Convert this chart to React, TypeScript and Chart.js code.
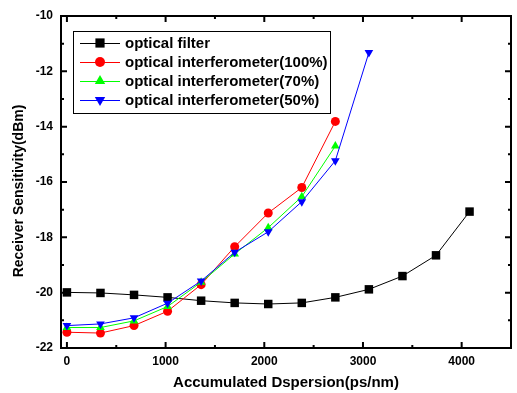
import React, { useEffect, useRef } from "react";
import { Chart, registerables } from "chart.js";

Chart.register(...registerables);

const xValues = [0, 340, 680, 1020, 1360, 1700, 2040, 2380, 2720, 3060, 3400, 3740, 4080];
const filterValues = [-19.99, -20.01, -20.08, -20.17, -20.29, -20.37, -20.41, -20.37, -20.17, -19.88, -19.4, -18.65, -17.07];
const interf100 = [-21.43, -21.46, -21.19, -20.67, -19.71, -18.34, -17.12, -16.2, -13.81];
const interf70 = [-21.26, -21.26, -21.02, -20.5, -19.62, -18.6, -17.65, -16.53, -14.7];
const interf50 = [-21.19, -21.13, -20.91, -20.38, -19.58, -18.54, -17.8, -16.71, -15.23, -11.32];

const seriesLabels = [
  "optical filter",
  "optical interferometer(100%)",
  "optical interferometer(70%)",
  "optical interferometer(50%)",
];
const xTickValues = [0, 1000, 2000, 3000, 4000];
const yTickValues = [-22, -20, -18, -16, -14, -12, -10];
const xMinorTicks = [500, 1500, 2500, 3500];
const yMinorTicks = [-21, -19, -17, -15, -13, -11];
const xTitle = "Accumulated Dspersion(ps/nm)";
const yTitle = "Receiver Sensitivity(dBm)";

const FONT = "'Liberation Sans', Arial, sans-serif";

const toPoints = (vals: number[]) => vals.map((y, i) => ({ x: xValues[i], y }));

function drawMarker(ctx: CanvasRenderingContext2D, style: string, x: number, y: number, r: number, color: string) {
  ctx.save();
  ctx.fillStyle = color;
  ctx.beginPath();
  if (style === "rect") {
    const s = Math.SQRT1_2 * r;
    ctx.rect(x - s, y - s, 2 * s, 2 * s);
  } else if (style === "circle") {
    ctx.arc(x, y, r, 0, Math.PI * 2);
  } else if (style === "triangle") {
    const h = r * Math.cos(Math.PI / 6);
    ctx.moveTo(x, y - r);
    ctx.lineTo(x + h, y + r / 2);
    ctx.lineTo(x - h, y + r / 2);
    ctx.closePath();
  } else if (style === "triangleDown") {
    const h = r * Math.cos(Math.PI / 6);
    ctx.moveTo(x, y + r);
    ctx.lineTo(x + h, y - r / 2);
    ctx.lineTo(x - h, y - r / 2);
    ctx.closePath();
  }
  ctx.fill();
  ctx.restore();
}

const framePlugin = {
  id: "frame",
  afterDraw(chart: any) {
    const { ctx, chartArea, scales } = chart;
    const { left, right, top, bottom } = chartArea;
    const xs = scales.x;
    const ys = scales.y;
    ctx.save();
    ctx.strokeStyle = "#000";
    ctx.lineWidth = 2;
    ctx.strokeRect(left, top, right - left, bottom - top);
    const tick = (vals: number[], len: number) => {
      vals.forEach((v) => {
        const px = xs.getPixelForValue(v);
        ctx.beginPath();
        ctx.moveTo(px, bottom);
        ctx.lineTo(px, bottom - len);
        ctx.moveTo(px, top);
        ctx.lineTo(px, top + len);
        ctx.stroke();
      });
    };
    const tickY = (vals: number[], len: number) => {
      vals.forEach((v) => {
        const py = ys.getPixelForValue(v);
        ctx.beginPath();
        ctx.moveTo(left, py);
        ctx.lineTo(left + len, py);
        ctx.moveTo(right, py);
        ctx.lineTo(right - len, py);
        ctx.stroke();
      });
    };
    tick(xTickValues, 6);
    tick(xMinorTicks, 3);
    tickY(yTickValues, 6);
    tickY(yMinorTicks, 3);

    // axis titles
    ctx.fillStyle = "#000";
    ctx.font = `bold 15px ${FONT}`;
    ctx.textAlign = "center";
    ctx.textBaseline = "middle";
    ctx.fillText(xTitle, 286, 383);
    ctx.save();
    ctx.translate(19, 191);
    ctx.rotate(-Math.PI / 2);
    ctx.font = `bold 14px ${FONT}`;
    ctx.fillText(yTitle, 0, 0);
    ctx.restore();

    // legend
    const bx = 73, by = 31, bw = 257, bh = 82;
    ctx.fillStyle = "#fff";
    ctx.fillRect(bx, by, bw, bh);
    ctx.lineWidth = 1;
    ctx.strokeStyle = "#000";
    ctx.strokeRect(bx + 0.5, by + 0.5, bw, bh);
    const styles = ["rect", "circle", "triangle", "triangleDown"];
    const radii = [6.5, 5, 6, 6];
    chart.data.datasets
      .slice()
      .sort((a: any, b: any) => a.legendIndex - b.legendIndex)
      .forEach((ds: any, i: number) => {
        const ry = 43 + i * 19;
        ctx.strokeStyle = ds.borderColor;
        ctx.lineWidth = 1;
        ctx.beginPath();
        ctx.moveTo(80, ry + 0.5);
        ctx.lineTo(120, ry + 0.5);
        ctx.stroke();
        drawMarker(ctx, styles[i], 100, ry, radii[i], ds.borderColor);
        ctx.fillStyle = "#000";
        ctx.font = `bold 15px ${FONT}`;
        ctx.textAlign = "left";
        ctx.textBaseline = "middle";
        ctx.fillText(ds.label, 125, ry + 1);
      });
    ctx.restore();
  },
};

export default function App() {
  const ref = useRef<HTMLCanvasElement | null>(null);
  useEffect(() => {
    if (!ref.current) return;
    const mk = (label: string, vals: number[], color: string, pointStyle: any, radius: number, rotation: number, order: number, legendIndex: number) => ({
      label,
      data: toPoints(vals),
      borderColor: color,
      backgroundColor: color,
      borderWidth: 1,
      pointStyle,
      pointRadius: radius,
      pointRotation: rotation,
      pointBorderWidth: 0,
      pointBackgroundColor: color,
      pointBorderColor: color,
      order,
      legendIndex,
      tension: 0,
    });
    const chart = new Chart(ref.current, {
      type: "line",
      data: {
        datasets: [
          mk(seriesLabels[0], filterValues, "#000000", "rect", 6, 0, 3, 0),
          mk(seriesLabels[1], interf100, "#ff0000", "circle", 4.5, 0, 2, 1),
          mk(seriesLabels[2], interf70, "#00ff00", "triangle", 5, 0, 1, 2),
          mk(seriesLabels[3], interf50, "#0000ff", "triangle", 5, 180, 0, 3),
        ] as any,
      },
      options: {
        animation: false,
        responsive: false,
        layout: { padding: { left: 0, top: 16, right: 5, bottom: 0 } },
        plugins: { legend: { display: false }, tooltip: { enabled: false } },
        scales: {
          x: {
            type: "linear",
            min: -60,
            max: 4500,
            grid: { display: false, drawTicks: false },
            border: { display: false },
            afterBuildTicks: (s: any) => {
              s.ticks = xTickValues.map((v) => ({ value: v }));
            },
            afterFit: (s: any) => {
              s.height = 45;
            },
            ticks: {
              padding: 6,
              color: "#000",
              font: { family: FONT, size: 12, weight: "bold" },
              maxRotation: 0,
              callback: (v: any) => String(v),
            },
          },
          y: {
            type: "linear",
            min: -22,
            max: -10,
            grid: { display: false, drawTicks: false },
            border: { display: false },
            afterBuildTicks: (s: any) => {
              s.ticks = yTickValues.map((v) => ({ value: v }));
            },
            afterFit: (s: any) => {
              s.width = 61;
            },
            ticks: {
              padding: 8,
              color: "#000",
              font: { family: FONT, size: 12, weight: "bold" },
              callback: (v: any) => String(v),
            },
          },
        },
      },
      plugins: [framePlugin],
    });
    return () => chart.destroy();
  }, []);
  return (
    <div style={{ position: "absolute", left: 0, top: 0, width: 517, height: 393, background: "#fff" }}>
      <canvas ref={ref} width={517} height={393} />
    </div>
  );
}
